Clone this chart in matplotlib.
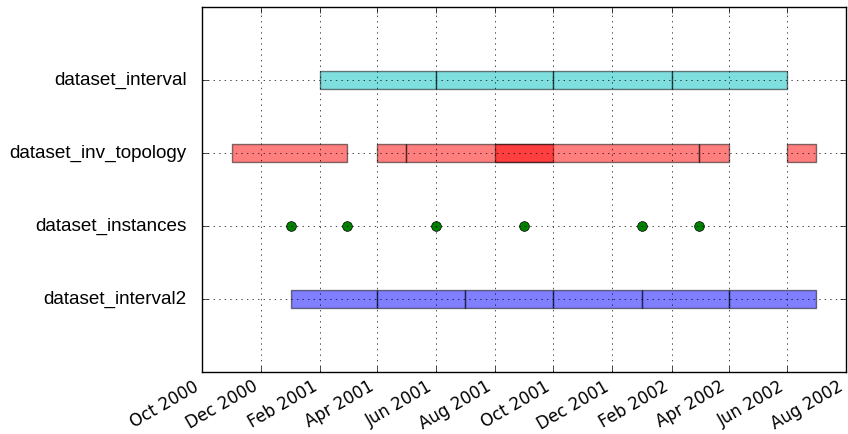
import matplotlib
matplotlib.use("Agg")
import matplotlib.pyplot as plt
import matplotlib.dates as mdates
from datetime import datetime

plt.style.use("classic")

categories = ["dataset_interval2", "dataset_instances", "dataset_inv_topology", "dataset_interval"]

interval_spans = [("2001-02-01", "2001-06-01"), ("2001-06-01", "2001-10-01"),
                  ("2001-10-01", "2002-02-01"), ("2002-02-01", "2002-06-01")]
inv_topology_spans = [("2000-11-01", "2001-03-01"), ("2001-04-01", "2001-05-01"),
                      ("2001-05-01", "2001-10-01"), ("2001-08-01", "2002-03-01"),
                      ("2002-03-01", "2002-04-01"), ("2002-06-01", "2002-07-01")]
instance_dates = ["2001-01-01", "2001-03-01", "2001-06-01", "2001-09-01", "2002-01-01", "2002-03-01"]
interval2_spans = [("2001-01-01", "2001-04-01"), ("2001-04-01", "2001-07-01"),
                   ("2001-07-01", "2001-10-01"), ("2001-10-01", "2002-01-01"),
                   ("2002-01-01", "2002-04-01"), ("2002-04-01", "2002-07-01")]
x_range = ("2000-10-01", "2002-08-01")


def d(s):
    return mdates.date2num(datetime.strptime(s, "%Y-%m-%d"))


def spans(lst):
    return [(d(a), d(b) - d(a)) for a, b in lst]


fig = plt.figure(figsize=(8.48, 4.34), dpi=100, facecolor="white")
ax = fig.add_axes([0.2382, 0.1429, 0.7594, 0.841])
ax.set_facecolor("white")

h = 0.25
ax.broken_barh(spans(interval2_spans), (1 - h / 2, h), facecolors="b", edgecolor="k", alpha=0.5)
ax.plot([d(s) for s in instance_dates], [2] * len(instance_dates), "go", markersize=7)
ax.broken_barh(spans(inv_topology_spans), (3 - h / 2, h), facecolors="r", edgecolor="k", alpha=0.5)
ax.broken_barh(spans(interval_spans), (4 - h / 2, h), facecolors="c", edgecolor="k", alpha=0.5)

ax.set_ylim(0, 5)
ax.set_yticks([1, 2, 3, 4])
ax.set_yticklabels(categories, family="Liberation Sans", fontsize=13.6)
ax.tick_params(axis="y", which="major", pad=10.8)

ax.xaxis_date()
ax.set_xlim(d(x_range[0]), d(x_range[1]))
ax.xaxis.set_major_locator(mdates.MonthLocator(bymonth=[2, 4, 6, 8, 10, 12]))
ax.xaxis.set_major_formatter(mdates.DateFormatter("%b %Y"))
for lab in ax.get_xticklabels():
    lab.set_rotation(30)
    lab.set_ha("right")
    lab.set_fontsize(12)
    lab.set_family("DejaVu Sans")

ax.grid(True)
fig.savefig("out.png", dpi=100, facecolor="white")
